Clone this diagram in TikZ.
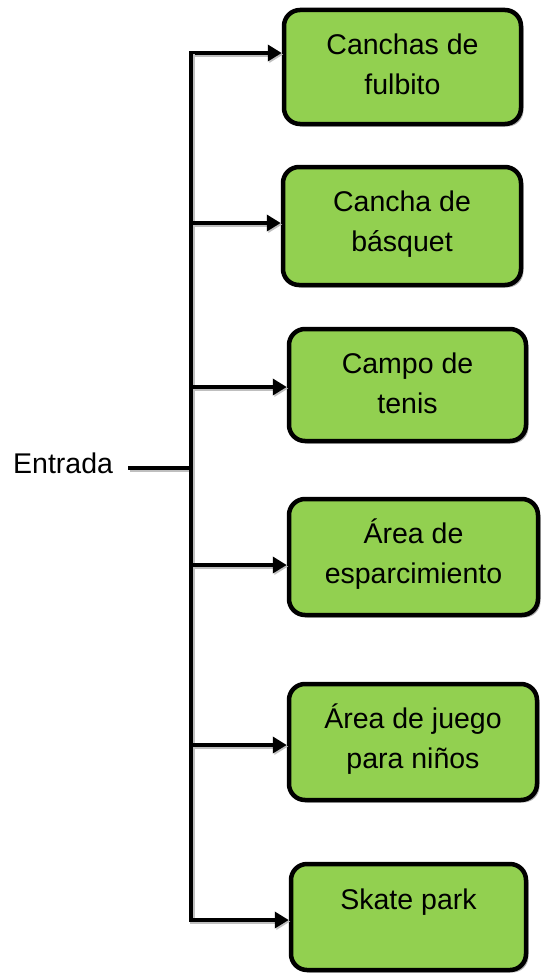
\documentclass[tikz,border=0pt]{standalone}
\usepackage{fontspec}
\setmainfont{Liberation Sans}
\usetikzlibrary{arrows.meta,shadows}
\definecolor{boxgreen}{HTML}{92D050}
\tikzset{
  box/.style={draw=black, line width=4.5pt, fill=boxgreen, rounded corners=16pt, inner sep=0pt,
    drop shadow={shadow xshift=2.5pt, shadow yshift=-2.5pt, opacity=0.3, fill=black}},
  txt/.style={align=center, inner sep=0pt, font=\fontsize{28.5}{40}\selectfont, anchor=north},
  conn/.style={line width=4.5pt, line join=miter,
    preaction={draw=black!25, line width=4.5pt, transform canvas={shift={(1.5pt,-1.5pt)}}}},
  arr/.style={conn, -{Triangle[length=14pt,width=16pt]}},
}
\begin{document}
\begin{tikzpicture}[x=1pt,y=-1pt]
\useasboundingbox (0,0) rectangle (541,974);
% junction coordinates
\coordinate (j1) at (191,53);
\coordinate (j2) at (191,223);
\coordinate (j3) at (191,387);
\coordinate (j4) at (191,565);
\coordinate (j5) at (191,745);
\coordinate (j6) at (191,920);
\coordinate (jc) at (191,468);
% boxes
\node[box, minimum width=237pt, minimum height=114pt] (b1) at (402.5,67) {};
\node[box, minimum width=238pt, minimum height=118pt] (b2) at (402,226) {};
\node[box, minimum width=237pt, minimum height=112pt] (b3) at (407.5,385) {};
\node[box, minimum width=249pt, minimum height=116pt] (b4) at (413.5,557) {};
\node[box, minimum width=248pt, minimum height=116pt] (b5) at (413,742) {};
\node[box, minimum width=235pt, minimum height=106pt] (b6) at (408.5,917) {};
% labels
\node[txt] (l1) at ([yshift=-19pt]b1.north) {\strut Canchas de\\fulbito};
\node[txt] (l2) at ([yshift=-19pt]b2.north) {\strut Cancha de\\básquet};
\node[txt] (l3) at ([yshift=-19pt]b3.north) {\strut Campo de\\tenis};
\node[txt] (l4) at ([yshift=-19pt]b4.north) {\strut Área de\\esparcimiento};
\node[txt] (l5) at ([yshift=-19pt]b5.north) {\strut Área de juego\\para niños};
\node[txt] (l6) at ([yshift=-20pt]b6.north) {\strut Skate park};
\node[font=\fontsize{28.5}{40}\selectfont, anchor=base west, inner sep=0pt] (entrada) at (13,473) {Entrada};
% connectors
\draw[conn] ([xshift=15pt]entrada.east |- jc) -- (jc);
\draw[arr] (j6) -- (j1) -- (j1 -| b1.west);
\draw[arr] (j1) -- (j6) -- (j6 -| b6.west);
\draw[arr] (j2) -- (j2 -| b2.west);
\draw[arr] (j3) -- (j3 -| b3.west);
\draw[arr] (j4) -- (j4 -| b4.west);
\draw[arr] (j5) -- (j5 -| b5.west);
\end{tikzpicture}
\end{document}
